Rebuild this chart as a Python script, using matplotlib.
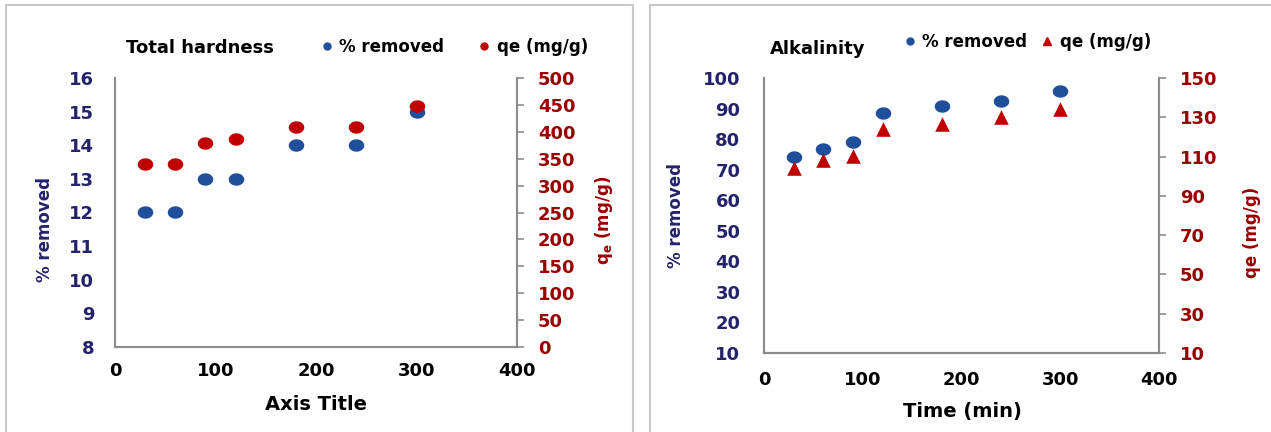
import numpy as np
import matplotlib
matplotlib.use("Agg")
import matplotlib.pyplot as plt
from matplotlib.lines import Line2D
from matplotlib.patches import Rectangle
from matplotlib.path import Path

# ---------------- data ----------------
time_min = [30, 60, 90, 120, 180, 240, 300]
th_removed = [12, 12, 13, 13, 14, 14, 15]
th_qe = [340, 340, 380, 386, 408, 408, 448]
alk_removed = [74, 76.7, 79, 88.6, 90.8, 92.5, 95.6]
alk_qe = [104, 108.5, 110.5, 124, 126.5, 130, 134]

x_ticks = [0, 100, 200, 300, 400]
th_left_ticks = list(range(8, 17))
th_right_ticks = list(range(0, 501, 50))
alk_left_ticks = list(range(10, 101, 10))
alk_right_ticks = list(range(10, 151, 20))

# ---------------- style ----------------
W, H = 1271, 432
plt.rcParams['font.family'] = ['DejaVu Sans']
plt.rcParams['font.weight'] = 'bold'
NAVY = '#23236B'
DKRED = '#990000'
BLUE = '#1F4E9A'
RED = '#C00000'
SPINE = '#8C8C8C'
FS = 13

t = np.linspace(0, 2 * np.pi, 40)
ellipse = Path(np.column_stack([1.25 * np.cos(t), np.sin(t)]))

fig = plt.figure(figsize=(W / 100, H / 100), dpi=100)

def fx(px):
    return px / W

def fy(py):
    return 1 - py / H

# panel frames
for (x0, x1) in [(6, 633), (650, 1275)]:
    fig.patches.append(Rectangle((fx(x0), fy(440)), fx(x1 - x0), (440 - 5) / H,
                                 transform=fig.transFigure, fill=False,
                                 edgecolor='#C8C8C8', linewidth=1.5))

def make_panel(rect, left_ticks, right_ticks, ylim_l, ylim_r, y_l, y_r, red_marker,
               lpad, xpad):
    ax = fig.add_axes(rect)
    ax2 = ax.twinx()
    ax.scatter(time_min, y_l, marker=ellipse, s=125, color=BLUE, zorder=3, linewidths=0)
    if red_marker == 'o':
        ax2.scatter(time_min, y_r, marker=ellipse, s=125, color=RED, zorder=3, linewidths=0)
    else:
        ax2.scatter(time_min, y_r, marker='^', s=110, color=RED, zorder=3, linewidths=0)
    ax.set_xlim(0, 400)
    ax.set_xticks(x_ticks)
    ax.set_ylim(*ylim_l)
    ax.set_yticks(left_ticks)
    ax2.set_ylim(*ylim_r)
    ax2.set_yticks(right_ticks)
    for a in (ax, ax2):
        a.spines['top'].set_visible(False)
        for s in ('left', 'right', 'bottom'):
            a.spines[s].set_color(SPINE)
            a.spines[s].set_linewidth(1.5)
        a.patch.set_visible(False)
    ax.tick_params(axis='x', length=0, pad=xpad, labelsize=FS, labelcolor='black')
    ax.tick_params(axis='y', length=0, pad=lpad, labelsize=FS, labelcolor=NAVY)
    ax2.tick_params(axis='y', length=5, width=1.2, color=SPINE, pad=10,
                    labelsize=FS, labelcolor=DKRED)
    for lab in ax.get_xticklabels() + ax.get_yticklabels() + ax2.get_yticklabels():
        lab.set_fontweight('bold')
    return ax, ax2

# left panel
make_panel([fx(115), fy(347), fx(517 - 115), (347 - 78) / H],
           th_left_ticks, th_right_ticks, (8, 16), (0, 500), th_removed, th_qe, 'o',
           lpad=15, xpad=11)
# right panel
make_panel([fx(764), fy(353), fx(1159 - 764), (353 - 78) / H],
           alk_left_ticks, alk_right_ticks, (10, 100), (10, 150), alk_removed, alk_qe, '^',
           lpad=17, xpad=13)

# titles / labels
fig.text(fx(126), fy(48), 'Total hardness', fontsize=13, fontweight='bold',
         ha='left', va='center', color='black')
fig.text(fx(770), fy(49), 'Alkalinity', fontsize=13, fontweight='bold',
         ha='left', va='center', color='black')
fig.text(fx(316), fy(405), 'Axis Title', fontsize=14, fontweight='bold',
         ha='center', va='center')
fig.text(fx(962), fy(412), 'Time (min)', fontsize=14, fontweight='bold',
         ha='center', va='center')
fig.text(fx(45), fy(229), '% removed', fontsize=12, fontweight='bold', color=NAVY,
         rotation=90, ha='center', va='center')
fig.text(fx(604), fy(220), r'q$_\mathbf{e}$ (mg/g)', fontsize=12, fontweight='bold',
         color=DKRED, rotation=90, ha='center', va='center')
fig.text(fx(676), fy(215), '% removed', fontsize=12, fontweight='bold', color=NAVY,
         rotation=90, ha='center', va='center')
fig.text(fx(1252), fy(232), 'qe (mg/g)', fontsize=12, fontweight='bold', color=DKRED,
         rotation=90, ha='center', va='center')

# legends
leg_kw = dict(frameon=False, ncol=2, fontsize=12, handlelength=0.8, handletextpad=0.35,
              columnspacing=2.0, borderpad=0, borderaxespad=0)
h1 = [Line2D([], [], ls='none', marker='o', ms=5, color=BLUE),
      Line2D([], [], ls='none', marker='o', ms=5, color=RED)]
l1 = fig.legend(h1, ['% removed', 'qe (mg/g)'], loc='center left',
                bbox_to_anchor=(fx(320), fy(47)), **leg_kw)
for tx in l1.get_texts():
    tx.set_fontweight('bold')
h2 = [Line2D([], [], ls='none', marker='o', ms=5, color=BLUE),
      Line2D([], [], ls='none', marker='^', ms=6, color=RED)]
leg_kw['columnspacing'] = 0.8
l2 = fig.legend(h2, ['% removed', 'qe (mg/g)'], loc='center left',
                bbox_to_anchor=(fx(903), fy(42)), **leg_kw)
for tx in l2.get_texts():
    tx.set_fontweight('bold')

fig.savefig('out.png', dpi=100)
